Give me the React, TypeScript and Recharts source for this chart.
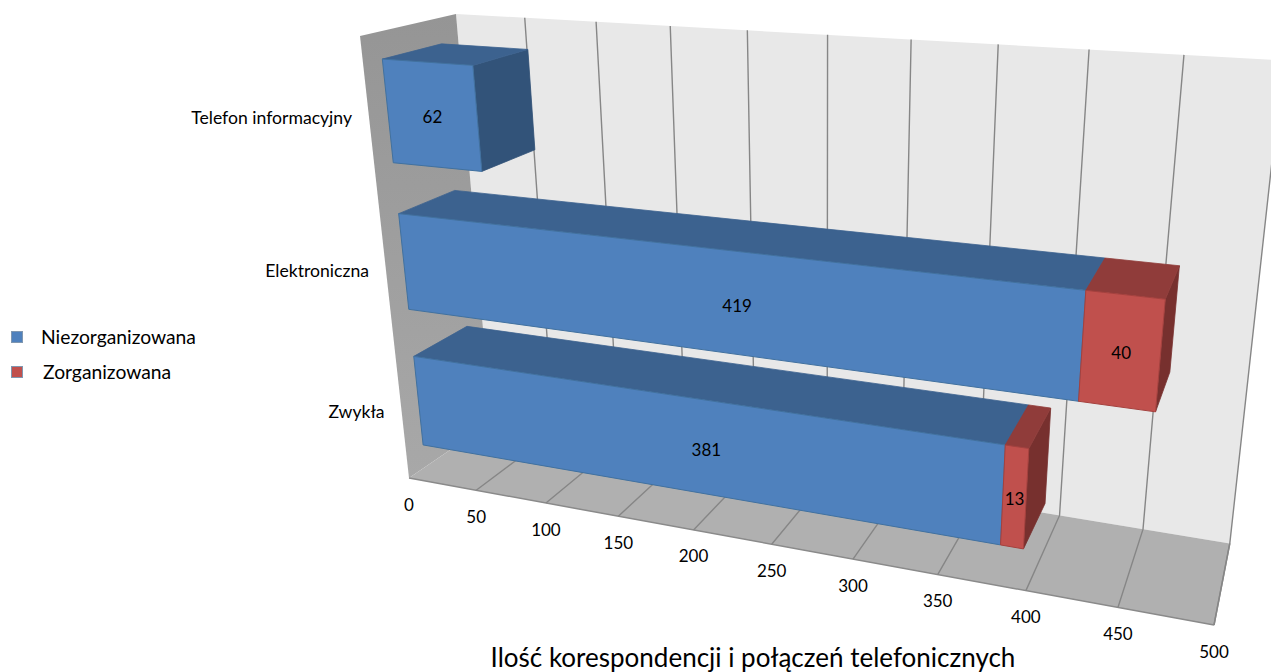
import React from "react";
import { BarChart, Bar, XAxis, YAxis, CartesianGrid, Legend, LabelList, Customized } from "recharts";

const categories = ["Telefon informacyjny", "Elektroniczna", "Zwykła"];
const niezorganizowana = [62, 419, 381];
const zorganizowana = [null, 40, 13];
const valueTicks = [0, 50, 100, 150, 200, 250, 300, 350, 400, 450, 500];
const title = "Ilość korespondencji i połączeń telefonicznych";

const data = categories.map((name, i) => ({
  name,
  niezorganizowana: niezorganizowana[i],
  zorganizowana: zorganizowana[i],
}));

const W = 1271;
const H = 672;
const AXIS_SIZE = 1;
const FONT = "Lato, 'Open Sans', sans-serif";
const TEXT = "#000";
const DEPTH_FRONT = 0.187;
const DEPTH_BACK = 0.81;

// Perspective camera: u along the value axis, t up the category axis, w into the page.
function project(u: number, t: number, w: number): [number, number] {
  const d = 1 - 0.18 * u - 0.1132 * t + 0.0894 * w;
  const nx = 409 + 586.48 * u - 89.75 * t + 125.9 * w - 7 * u * t - 3 * u * w;
  const ny = 478 + 34.5 * u - 446.1 * t - 18.3 * w;
  return [nx / d, ny / d];
}
const toU = (px: number) => (px - AXIS_SIZE) / (W - AXIS_SIZE);
const toT = (py: number) => 1 - py / (H - AXIS_SIZE);
const poly = (pts: [number, number][]) => pts.map((p) => p.join(",")).join(" ");

const palette: Record<string, { front: string; edge: string; top: string; side: string }> = {
  "#4F81BD": { front: "#4F81BD", edge: "#41719F", top: "#3C628F", side: "#325379" },
  "#C0504D": { front: "#C0504D", edge: "#A5413E", top: "#903C3A", side: "#77302E" },
};

function Bar3D(props: any) {
  const { x, y, width, height, fill } = props;
  if (!width || width <= 0) return null;
  const c = palette[fill];
  const u0 = toU(x), u1 = toU(x + width), tT = toT(y), tB = toT(y + height);
  const a = project(u0, tT, DEPTH_FRONT), b = project(u1, tT, DEPTH_FRONT);
  const e = project(u1, tB, DEPTH_FRONT), f = project(u0, tB, DEPTH_FRONT);
  const a2 = project(u0, tT, DEPTH_BACK), b2 = project(u1, tT, DEPTH_BACK), e2 = project(u1, tB, DEPTH_BACK);
  return (
    <g>
      <polygon points={poly([b, b2, e2, e])} fill={c.side} stroke={c.side} strokeWidth={0.8} />
      <polygon points={poly([a, a2, b2, b])} fill={c.top} stroke={c.top} strokeWidth={0.8} />
      <polygon points={poly([a, b, e, f])} fill={c.front} stroke={c.edge} strokeWidth={1} />
    </g>
  );
}

function barLabel(props: any) {
  const { x, y, width, height, value } = props;
  if (!value) return null;
  const u0 = toU(x), u1 = toU(x + width), tT = toT(y), tB = toT(y + height);
  const pts = [project(u0, tT, DEPTH_FRONT), project(u1, tT, DEPTH_FRONT), project(u1, tB, DEPTH_FRONT), project(u0, tB, DEPTH_FRONT)];
  const mean = [0, 1].map((k) => pts.reduce((s, p) => s + p[k], 0) / 4);
  const mid = project((u0 + u1) / 2, (tT + tB) / 2, DEPTH_FRONT);
  return (
    <text x={0.8 * mean[0] + 0.2 * mid[0]} y={mean[1] + 2} textAnchor="middle" dominantBaseline="central" fontFamily={FONT} fontSize={17} fill={TEXT}>
      {value}
    </text>
  );
}

function Walls() {
  const wall = poly([project(0, 0, 0), project(0, 1, 0), project(0, 1, 1), project(0, 0, 1)]);
  const floor = poly([project(0, 0, 0), project(1, 0, 0), project(1, 0, 1), project(0, 0, 1)]);
  const back = poly([project(0, 0, 1), project(1, 0, 1), project(1, 1, 1), project(0, 1, 1)]);
  return (
    <g>
      <defs>
        <linearGradient id="wallFill" x1="0" y1="0" x2="0" y2="1">
          <stop offset="0" stopColor="#959595" />
          <stop offset="1" stopColor="#A8A8A8" />
        </linearGradient>
      </defs>
      <polygon points={back} fill="#E8E8E8" />
      <polygon points={wall} fill="url(#wallFill)" />
      <polygon points={floor} fill="#B0B0B0" />
      <line x1={project(0, 0, 0)[0]} y1={project(0, 0, 0)[1]} x2={project(1, 0, 0)[0]} y2={project(1, 0, 0)[1]} stroke="#8A8A8A" strokeWidth={1.5} />
      <line x1={project(1, 0, 0)[0]} y1={project(1, 0, 0)[1]} x2={project(1, 0, 1)[0]} y2={project(1, 0, 1)[1]} stroke="#8A8A8A" strokeWidth={1.5} />
    </g>
  );
}

function gridLine(props: any) {
  const u = toU(props.x1);
  const p0 = project(u, 0, 0), p1 = project(u, 0, 1), p2 = project(u, 1, 1);
  return (
    <g key={props.key}>
      {props.index === 0 ? <Walls /> : null}
      {u > 0.01 ? <polyline points={poly([p0, p1, p2])} fill="none" stroke="#868686" strokeWidth={1.4} /> : null}
    </g>
  );
}

function ValueTick(props: any) {
  const { x, payload } = props;
  const [px, py] = project(toU(x), 0, 0);
  return (
    <text x={px} y={py + 26} textAnchor="middle" dominantBaseline="central" fontFamily={FONT} fontSize={17} fill={TEXT}>
      {payload.value}
    </text>
  );
}

function CategoryTick(props: any) {
  const { y, payload } = props;
  const [px, py] = project(0, toT(y), 0);
  return (
    <text x={px - 17} y={py} textAnchor="end" dominantBaseline="central" fontFamily={FONT} fontSize={17.6} fill={TEXT}>
      {payload.value}
    </text>
  );
}

function LegendBox(props: any) {
  const offsets = [41, 43];
  return (
    <div style={{ fontFamily: FONT, fontSize: 19.3, color: TEXT }}>
      {props.payload.map((item: any, i: number) => (
        <div key={item.value} style={{ position: "absolute", left: 0, top: i * 35, height: 24, width: 210, whiteSpace: "nowrap" }}>
          <span style={{ position: "absolute", left: 11, top: 6, width: 10, height: 10, background: item.color, border: "1px solid #8097B0" }} />
          <span style={{ position: "absolute", left: offsets[i], top: 0, lineHeight: "24px" }}>{item.value}</span>
        </div>
      ))}
    </div>
  );
}

function TitleText() {
  return (
    <text x={753} y={656.5} textAnchor="middle" dominantBaseline="central" fontFamily={FONT} fontSize={26} fill={TEXT}>
      {title}
    </text>
  );
}

export default function App() {
  return (
    <div style={{ position: "absolute", left: 0, top: 0, width: W, height: H, overflow: "hidden" }}>
      <BarChart width={W} height={H} data={data} layout="vertical" margin={{ top: 0, right: 0, bottom: 0, left: 0 }} barCategoryGap="17%">
        <CartesianGrid horizontal={false} vertical={gridLine} />
        <XAxis type="number" domain={[0, 500]} ticks={valueTicks} interval={0} height={AXIS_SIZE} axisLine={false} tickLine={false} tick={ValueTick} />
        <YAxis type="category" dataKey="name" width={AXIS_SIZE} interval={0} axisLine={false} tickLine={false} tick={CategoryTick} />
        <Legend content={LegendBox} wrapperStyle={{ position: "absolute", left: 0, top: 325, width: 0, height: 0, bottom: "auto" }} />
        <Bar dataKey="niezorganizowana" name="Niezorganizowana" stackId="a" fill="#4F81BD" shape={Bar3D} isAnimationActive={false}>
          <LabelList dataKey="niezorganizowana" content={barLabel} />
        </Bar>
        <Bar dataKey="zorganizowana" name="Zorganizowana" stackId="a" fill="#C0504D" shape={Bar3D} isAnimationActive={false}>
          <LabelList dataKey="zorganizowana" content={barLabel} />
        </Bar>
        <Customized component={TitleText} />
      </BarChart>
    </div>
  );
}
